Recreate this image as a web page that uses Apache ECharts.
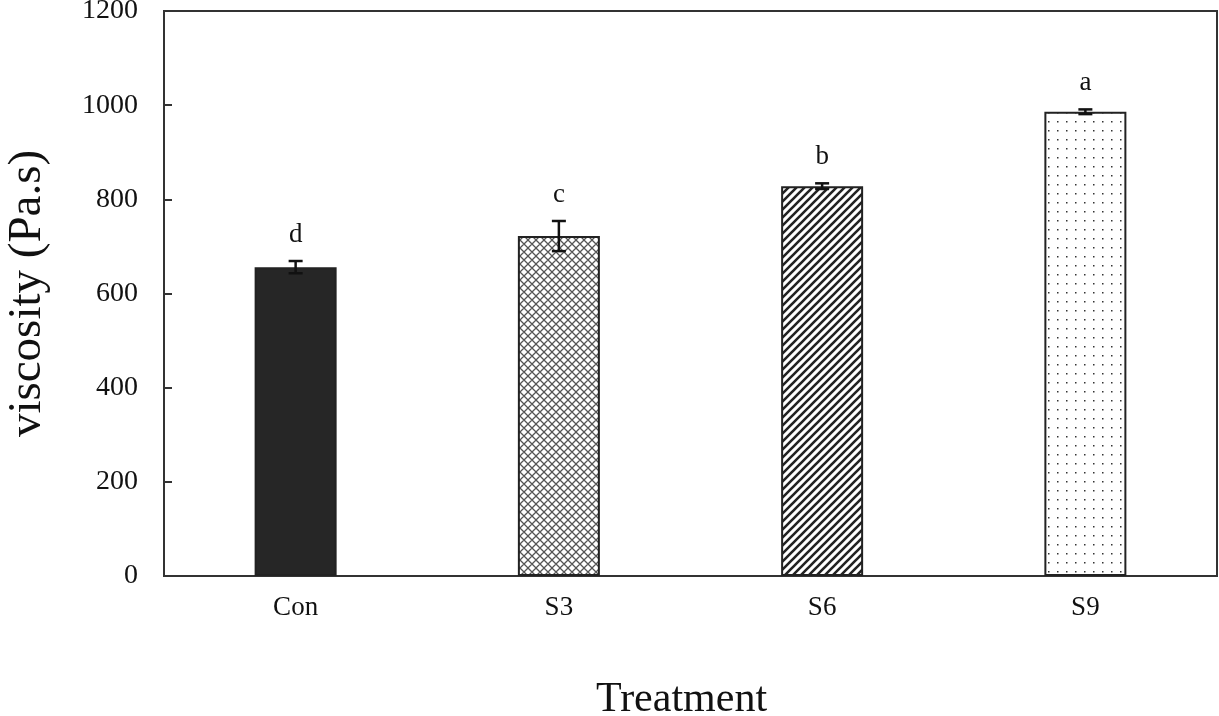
<!DOCTYPE html>
<html><head><meta charset="utf-8">
<script src="https://cdn.jsdelivr.net/npm/echarts@6/dist/echarts.min.js"></script>
<style>html,body{margin:0;padding:0;background:#fff}#c{width:1219px;height:716px}</style>
</head><body><div id="c"></div>
<script>
const categories = ['Con', 'S3', 'S6', 'S9'];
const values = [656, 722, 828, 986];
const errors = [13, 32, 6, 5];
const letters = ['d', 'c', 'b', 'a'];
const yTicks = [0, 200, 400, 600, 800, 1000, 1200];

function mkCanvas(w, h, draw) {
  const c = document.createElement('canvas'); c.width = w; c.height = h;
  const ctx = c.getContext('2d'); ctx.fillStyle = '#fff'; ctx.fillRect(0, 0, w, h); draw(ctx); return c;
}
const crossPat = mkCanvas(8, 8, ctx => {
  ctx.strokeStyle = '#555'; ctx.lineWidth = 1.3;
  ctx.beginPath(); ctx.moveTo(-4, -4); ctx.lineTo(12, 12); ctx.moveTo(-4, 4); ctx.lineTo(4, 12); ctx.moveTo(4, -4); ctx.lineTo(12, 4);
  ctx.moveTo(12, -4); ctx.lineTo(-4, 12); ctx.moveTo(12, 4); ctx.lineTo(4, 12); ctx.moveTo(4, -4); ctx.lineTo(-4, 4); ctx.stroke();
});
const diagPat = mkCanvas(8, 8, ctx => {
  ctx.strokeStyle = '#222'; ctx.lineWidth = 2.6;
  ctx.beginPath(); ctx.moveTo(-4, 12); ctx.lineTo(12, -4); ctx.moveTo(-8, 8); ctx.lineTo(8, -8); ctx.moveTo(0, 16); ctx.lineTo(16, 0); ctx.stroke();
});
const dotPat = mkCanvas(9, 9, ctx => {
  ctx.fillStyle = '#333'; ctx.fillRect(4, 4, 1.5, 1.5);
});
const fills = ['#262626', {image: crossPat, repeat: 'repeat'}, {image: diagPat, repeat: 'repeat'}, {image: dotPat, repeat: 'repeat'}];

const font = 'Liberation Serif';
const chart = echarts.init(document.getElementById('c'));
chart.setOption({
  animation: false,
  grid: {left: 164, right: 2, top: 11, bottom: 140, outerBoundsMode: 'none', containLabel: false,
    show: true, borderColor: '#333', borderWidth: 2, backgroundColor: 'transparent'},
  xAxis: {
    type: 'category', data: categories,
    axisLine: {lineStyle: {color: '#333', width: 2}}, axisTick: {show: false},
    axisLabel: {fontFamily: font, fontSize: 27, color: '#111', margin: 18},
    name: 'Treatment', nameLocation: 'middle', nameGap: 103,
    nameTextStyle: {fontFamily: font, fontSize: 42, color: '#111', padding: [0, 18, 0, 0]}
  },
  yAxis: {
    type: 'value', min: 0, max: 1200, interval: 200,
    axisLine: {show: true, lineStyle: {color: '#333', width: 2}},
    axisTick: {show: true, inside: true, length: 8, lineStyle: {color: '#333', width: 2}},
    splitLine: {show: false},
    axisLabel: {fontFamily: font, fontSize: 28, color: '#111', margin: 26,
      formatter: v => yTicks.includes(v) ? String(v) : ''},
    name: 'viscosity (Pa.s)', nameLocation: 'middle', nameGap: 113,
    nameTextStyle: {fontFamily: font, fontSize: 47, color: '#111'}
  },
  series: [
    {
      type: 'bar', barWidth: 82,
      data: values.map((v, i) => ({value: v, itemStyle: {color: fills[i], borderColor: '#222', borderWidth: 2}}))
    },
    {
      type: 'custom', z: 10,
      data: values.map((v, i) => [i, v, errors[i], letters[i]]),
      renderItem: (params, api) => {
        const x = api.coord([api.value(0), 0])[0];
        const hi = api.coord([api.value(0), api.value(1) + api.value(2)])[1];
        const lo = api.coord([api.value(0), api.value(1) - api.value(2)])[1];
        const w = 7;
        const st = {stroke: '#111', lineWidth: 2.5};
        return {type: 'group', children: [
          {type: 'line', shape: {x1: x, y1: hi, x2: x, y2: lo}, style: st},
          {type: 'line', shape: {x1: x - w, y1: hi, x2: x + w, y2: hi}, style: st},
          {type: 'line', shape: {x1: x - w, y1: lo, x2: x + w, y2: lo}, style: st},
          {type: 'text', x: x, y: hi - 13, style: {text: letters[params.dataIndex], fontFamily: font, fontSize: 27, fill: '#111', align: 'center', verticalAlign: 'bottom'}}
        ]};
      }
    }
  ]
});
</script></body></html>
